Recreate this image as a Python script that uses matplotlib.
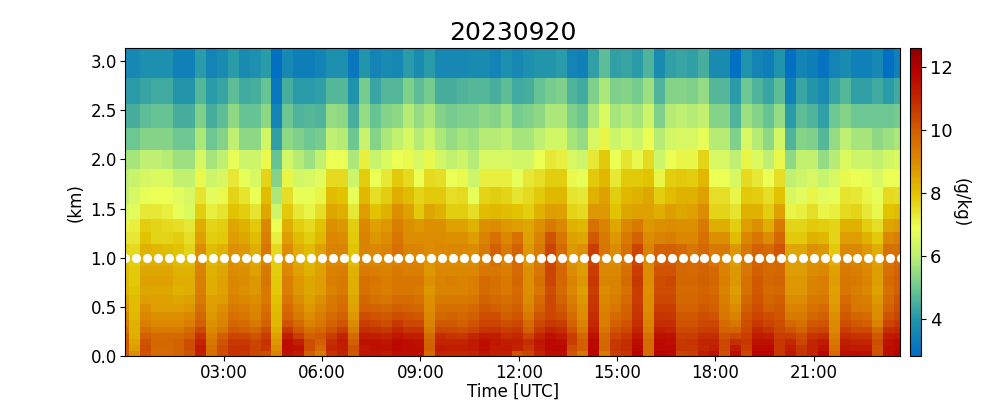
import numpy as np
import matplotlib
matplotlib.use("Agg")
import matplotlib.pyplot as plt
from matplotlib.colors import LinearSegmentedColormap

title = "20230920"
height_edges_km = [3.13, 2.83, 2.565, 2.32, 2.095, 1.90, 1.72, 1.545, 1.395, 1.26, 1.14, 1.017,
                   0.915, 0.815, 0.71, 0.62, 0.53, 0.45, 0.365, 0.295, 0.23, 0.17, 0.11, 0.05, 0.0]
time_edges_h = [0.0] + [0.125 + k / 3 for k in range(71)] + [23.64]
marker_times_h = [k / 3 for k in range(72)]
marker_height_km = 1.0
tick_hours = [3, 6, 9, 12, 15, 18, 21]
tick_labels = ["03:00", "06:00", "09:00", "12:00", "15:00", "18:00", "21:00"]

# Mixing ratio (g/kg): one list per time step, from the top level down to the surface
q_by_time = [
 [3.6,4.1,4.5,5,5.7,6,6.1,6.6,7.1,7.3,7.7, 8,8.1,8.2,8.2,8.5,8.8,9.1,9.3,9.6,10,10.1,10.1,10.1],
 [3.6,4.1,4.5,5,5.7,6.2,6.5,6.7,7.2,7.3,7.6, 7.8,7.9,7.9,8,8.1,8.1,8.2,8.3,8.3,8.4,8.5,8.7,8.9],
 [3.8,4.3,4.8,5.3,6,6.5,6.8,7.3,7.8,8,8.3, 8.3,8.5,8.6,8.5,8.7,8.9,9.1,9.3,9.6,10,10.2,10.3,10.2],
 [3.8,4.4,4.9,5.3,6,6.6,6.9,7.3,7.7,7.7,8.2, 8.4,8.5,8.6,8.5,8.6,8.7,8.9,9.1,9.4,9.7,9.8,9.7,9.7],
 [3.8,4.4,4.9,5.3,5.9,6.6,6.9,7.2,7.6,7.7,8.1, 8.4,8.5,8.6,8.5,8.6,8.7,8.9,9.1,9.4,9.7,9.8,9.7,9.7],
 [3.4,4,4.5,5,5.6,6.1,6.7,6.8,7.5,7.8,8, 8.1,8.3,8.4,8.3,8.5,8.7,8.9,9.1,9.4,9.7,9.9,9.9,9.9],
 [3.4,4,4.5,5,5.6,6.1,6.5,6.6,7.3,7.5,7.7, 8.1,8.3,8.4,8.4,8.6,8.8,9.1,9.3,9.7,10,10.3,10.3,10.2],
 [4.1,4.7,5.2,5.8,6.5,7,7.4,7.8,8.4,8.6,9, 9.1,9.2,9.3,9.3,9.4,9.6,9.8,10,10.4,10.8,11.1,11.3,11.2],
 [3.5,4.1,4.5,5,5.7,6.3,6.7,7.2,7.7,7.8,8.1, 8.2,8.3,8.4,8.4,8.6,8.7,8.8,8.9,9.1,9.3,9.5,9.6,9.6],
 [3.7,4.3,4.8,5.3,6,6.5,7,7.4,7.8,7.9,8.3, 8.4,8.5,8.6,8.6,8.7,8.9,9.1,9.2,9.5,10,10.2,10.3,10.3],
 [4.1,4.8,5.4,6,6.8,7.3,7.7,8,8.5,8.7,8.9, 8.9,9,9.1,9.1,9.2,9.4,9.6,9.8,10.1,10.5,10.7,10.8,10.8],
 [3.7,4.4,4.9,5.4,6.3,6.8,7.4,7.8,8.3,8.5,8.8, 8.8,8.9,9,8.9,9.1,9.3,9.5,9.7,10,10.4,10.7,10.8,10.7],
 [3.8,4.5,4.9,5.4,6.3,6.5,6.9,7.4,7.9,8.1,8.4, 8.5,8.6,8.8,8.8,8.9,9.1,9.2,9.4,9.8,10.2,10.5,10.5,10.4],
 [4.1,4.9,5.4,6.4,7,7.7,8.1,8.5,9.1,9.3,9.5, 9.2,9.4,9.5,9.4,9.4,9.6,9.8,9.9,10.3,10.6,10.8,10.7,10.3],
 [2.9,3.1,3.5,4.2,4.9,5.3,5.8,6.3,6.9,7.2,7.6, 7.8,7.8,7.9,7.9,8,8.1,8.2,8.2,8.4,8.6,8.8,9,9.2],
 [3.6,4.5,5,5.4,6.4,7.1,7.5,7.9,8.4,8.7,9, 9,9.1,9.3,9.3,9.5,9.7,9.9,10.2,10.7,11.2,11.6,11.6,11.5],
 [3.3,4.1,4.6,5.2,5.9,6.4,6.8,7.3,7.8,8.1,8.4, 8.5,8.6,8.8,8.8,9,9.2,9.4,9.7,10.1,10.6,11.2,11.5,11.3],
 [3.3,4.1,4.7,5,5.6,6.5,6.8,7.1,7.6,7.8,8.1, 8.2,8.3,8.5,8.5,8.6,8.8,9,9.2,9.6,10,10.3,10.3,10],
 [3.5,4.2,4.6,5.1,6.1,6.7,7.1,7.5,8,8.2,8.6, 8.5,8.6,8.7,8.7,8.9,9.1,9.3,9.5,9.8,10.1,10,9.7,9.4],
 [3.8,4.7,5.5,6,6.9,7.6,8.1,8.5,8.9,9.1,9.2, 9.1,9.2,9.3,9.2,9.4,9.5,9.7,9.9,10.2,10.6,10.9,11,10.8],
 [3.8,4.7,5.4,5.9,6.9,7.6,8,8.4,8.8,9,9.2, 9.1,9.3,9.4,9.4,9.6,9.7,9.9,10.2,10.6,11.1,11.3,11.2,11.1],
 [3.1,3.9,4.5,5,5.8,6.3,6.8,7.3,7.8,7.9,8, 8.1,8.3,8.4,8.4,8.5,8.6,8.8,9,9.3,9.7,10,10.2,10.1],
 [4,5.1,5.5,6.2,7.2,7.8,8.2,8.7,9.1,9.2,9.2, 9.2,9.4,9.6,9.6,9.8,10,10.3,10.6,10.9,11.3,11.5,11.4,11.4],
 [3.5,4.3,4.9,5.3,6.2,6.9,7.5,8,8.6,8.8,9.1, 9.1,9.3,9.5,9.4,9.6,9.9,10.2,10.5,10.8,11.2,11.5,11.5,11.4],
 [3.7,4.7,5.3,5.8,6.6,7.3,7.8,8.3,8.8,9,9.2, 9.1,9.2,9.3,9.3,9.5,9.8,10.1,10.3,10.7,11.1,11.4,11.5,11.3],
 [3.6,4.7,5.4,6.1,6.9,7.9,8.4,8.9,9.3,9.5,9.6, 9.2,9.4,9.5,9.5,9.7,10,10.3,10.7,11,11.4,11.7,11.7,11.6],
 [4.1,5.2,5.9,6.5,7,7.6,8.1,8.6,8.9,9,9.2, 9.2,9.3,9.5,9.5,9.7,9.9,10.2,10.4,10.8,11.2,11.6,11.6,11.6],
 [3.7,4.8,5.5,5.9,6.5,6.9,7.7,7.9,8.8,9,9.2, 9.2,9.3,9.5,9.4,9.6,9.8,10.1,10.4,10.8,11.2,11.5,11.6,11.6],
 [4.1,5.1,5.8,6.3,7,7.6,7.9,8.5,8.9,9,9, 8.8,8.8,8.9,8.8,8.9,9,9.1,9.2,9.4,9.7,9.9,10,9.7],
 [3.6,4.5,5.3,5.8,6.4,7.5,7.9,8.3,8.9,9,9.1, 9,9.1,9.2,9.2,9.4,9.6,9.8,10.1,10.4,10.9,11.1,11.3,11.1],
 [3.6,4.5,5.1,5.5,6.1,6.9,7.5,7.8,8.6,8.9,9.1, 9,9.1,9.3,9.2,9.4,9.6,9.9,10.1,10.4,10.8,11.1,11.2,11],
 [3.6,4.6,5.2,5.7,6.3,7,7.6,7.8,8.6,8.9,9.1, 9,9.1,9.2,9.2,9.4,9.6,9.8,10,10.3,10.7,11.1,11.2,11],
 [3.7,4.7,5.2,5.6,5.9,6.3,6.8,7.5,8.3,8.7,9, 9,9.1,9.3,9.3,9.5,9.7,10,10.2,10.5,11,11.3,11.3,11.1],
 [3.7,4.7,5.4,5.9,6.5,7.2,7.7,8.1,8.9,9.2,9.4, 9.3,9.5,9.7,9.7,9.9,10.1,10.3,10.5,10.8,11.3,11.6,11.6,11.4],
 [3.5,4.5,5.3,5.9,6.5,7.2,7.8,8.2,9,9.6,10, 9.6,9.5,9.6,9.6,9.7,10,10.3,10.5,10.8,11.2,11.4,11.3,11.2],
 [3.8,4.8,5.6,6,6.5,7.2,7.7,8.1,8.8,9.1,9.4, 9.2,9.3,9.4,9.4,9.6,9.8,10,10.3,10.6,10.9,11.2,11.3,11.2],
 [3.6,4.4,5.1,5.7,6.4,6.8,7.4,8,8.7,9.6,9.9, 9.7,9.7,9.8,9.7,9.8,10,10.2,10.4,10.7,11,11.2,11.1,10.2],
 [3.8,4.5,5.2,5.7,6.4,7.3,7.6,7.8,8.5,8.6,8.8, 8.8,8.9,8.9,8.9,9,9.2,9.4,9.7,10,10.5,10.9,10.7,10.5],
 [4,4.9,5.4,6,6.9,7.5,7.9,8.3,8.9,9.2,9.4, 9.4,9.5,9.6,9.5,9.7,9.9,10.2,10.4,10.7,11.1,11.4,11.3,11.1],
 [4,5.1,5.8,6.4,7.3,7.8,8.2,8.7,9.4,10.2,10.5, 10.4,10.5,10.5,10.3,10.4,10.4,10.5,10.7,11.1,11.5,11.7,11.7,11.6],
 [4.1,5.2,5.8,6.4,7.2,7.8,8.2,8.6,9.1,9.5,9.7, 9.7,9.8,9.8,9.7,9.9,10.1,10.3,10.6,10.9,11.3,11.6,11.7,11.6],
 [3.5,4.6,5.2,5.7,6.5,7,7.4,7.7,8.3,8.6,8.8, 8.9,9,9.2,9.1,9.3,9.5,9.7,9.9,10.2,10.6,10.6,10.3,10.1],
 [3.4,4.4,5,5.5,6.3,6.8,7.3,7.6,8.2,8.5,8.9, 8.7,8.7,8.8,8.7,8.8,8.9,9,9.2,9.4,9.8,10,10,9.5],
 [4.2,5.2,5.8,6.5,7.3,7.9,8.3,8.8,9.6,10.1,10.6, 10.5,10.6,10.7,10.6,10.7,10.8,10.9,11,11.2,11.5,11.7,11.7,11.8],
 [4.8,5.8,6.6,7.1,7.9,8.2,8.6,8.8,9.2,9.4,9.5, 9.1,9.1,9.2,9,9.1,9.2,9.3,9.3,9.5,9.7,9.8,9.8,9.4],
 [4.2,5.2,5.7,6.3,6.9,7.3,7.8,8,8.5,8.8,9, 9,9.1,9.2,9.2,9.3,9.5,9.7,9.9,10.2,10.5,10.7,10.7,10.6],
 [4.3,5.3,5.9,6.6,7.4,7.9,8.2,8.5,9.1,9.4,9.6, 9.5,9.6,9.7,9.6,9.7,9.9,10,10.2,10.4,10.7,10.9,10.9,10.8],
 [4.1,5.1,5.7,6.3,7,7.9,8.3,8.6,9.4,9.9,10.5, 10.5,10.6,10.7,10.6,10.6,10.7,10.8,10.9,11.1,11.4,11.6,11.7,11.8],
 [4.6,5.6,6.3,6.9,7.6,8,8.5,8.6,8.8,9,9.2, 9,9,9,8.9,9,9,9.1,9.2,9.3,9.6,9.7,9.7,9.7],
 [3.7,4.6,5.2,5.9,6.3,7.1,7.8,8.4,8.9,9.2,10, 10,10.2,10.3,10.3,10.4,10.6,10.8,10.9,11.2,11.5,11.7,11.7,11.8],
 [4.2,5.3,5.9,6.4,6.9,7.8,8.1,8.7,9,9.3,10, 10.1,10.2,10.4,10.3,10.4,10.6,10.7,10.9,11.1,11.5,11.6,11.7,11.7],
 [4.3,5.3,6,6.5,7.1,7.9,8.3,8.5,8.9,9.1,9.8, 9.8,9.8,9.8,9.7,9.8,9.9,10.1,10.2,10.4,10.6,10.7,10.7,10.5],
 [4.2,5.2,5.9,6.5,7.1,7.8,8.3,8.6,8.9,9.1,9.5, 9.7,9.7,9.8,9.7,9.8,9.9,10.1,10.2,10.4,10.6,10.8,10.7,10.6],
 [4.5,5.5,6.1,6.8,7.7,8.2,8.6,9,9.4,9.6,9.8, 9.8,9.9,10,9.9,10,10.1,10.3,10.4,10.6,10.9,11.1,11,11.2],
 [3.7,4.7,5.3,5.9,6.5,6.9,7.5,7.7,8.4,8.9,9.4, 9.5,9.7,9.8,9.7,9.9,10,10.2,10.4,10.6,10.9,11.1,11.2,11.5],
 [3.7,4.7,5.3,5.9,6.5,6.9,7.5,7.7,8.4,8.9,9.4, 9.2,9.2,9.3,9.2,9.3,9.4,9.5,9.7,9.9,10.2,10.4,10.4,10.2],
 [2.9,4.1,4.6,5.2,6,6.5,7.1,7.4,7.8,8.1,8.8, 8.7,8.8,8.8,8.7,8.8,9,9.2,9.5,9.9,10.4,10.9,11.3,11.6],
 [3.9,5,5.6,6.5,7.1,7.6,7.9,8.3,8.7,9.1,9.5, 9.5,9.5,9.6,9.6,9.8,10,10.2,10.3,10.4,10.6,10.7,10.6,10.4],
 [3.5,4.6,5.3,5.9,6.6,7.3,7.8,8.3,8.9,9.5,9.9, 9.9,10,10.1,10.1,10.2,10.3,10.5,10.7,11,11.3,11.5,11.7,11.8],
 [3.3,4.3,4.9,5.4,6,6.9,7.5,7.8,8.4,9,9.7, 9.7,9.7,9.8,9.7,9.8,10,10.3,10.5,10.8,11.2,11.5,11.7,11.8],
 [3.9,4.8,5.5,6.4,7,7.5,8,8.6,9.4,9.8,10.2, 9.8,9.8,9.9,9.8,10,10.1,10.2,10.3,10.4,10.6,10.7,10.7,10.7],
 [2.9,3.4,4.1,4.6,5.4,6,6.5,7.1,7.7,7.9,8.5, 8.7,8.7,8.8,8.8,9,9.2,9.4,9.8,10.2,10.6,11,11.2,11.4],
 [3.5,4.3,4.8,5.3,6.1,6.3,6.7,7.2,7.7,7.9,8.5, 8.7,8.7,8.8,8.8,9,9.2,9.4,9.6,9.9,10.3,10.5,10.7,10.8],
 [3.3,4,4.6,5.2,6.1,6.5,7.1,7.5,7.9,8.3,8.9, 8.9,9,9.2,9.2,9.4,9.6,9.8,10.1,10.4,10.8,11.1,11.1,11.1],
 [3,3.7,4.2,4.7,5.5,6.2,6.7,7.1,7.8,8.2,8.8, 8.9,9.1,9.3,9.3,9.5,9.7,10,10.2,10.5,10.9,11.3,11.5,11.7],
 [3.5,4.3,5,5.5,5.9,6.5,6.8,7.2,7.7,7.7,7.9, 8.4,8.6,8.7,8.6,8.7,8.8,8.9,9,9.1,9.3,9.5,9.6,9.7],
 [3.7,4.7,5.3,6,6.6,7,7.4,7.6,8.3,8.7,9.1, 9.3,9.4,9.5,9.5,9.7,9.9,10.1,10.3,10.6,10.9,11.2,11.4,11.6],
 [3.4,4.2,5,5.7,6.3,6.9,7.3,7.7,8.3,8.7,9.1, 9.2,9.3,9.4,9.3,9.4,9.5,9.8,10.1,10.4,10.8,11.1,11.3,11.6],
 [3.4,4.2,5,5.7,6.3,6.8,7.1,7.3,7.8,8.3,8.8, 9,9.1,9.2,9.1,9.3,9.4,9.7,10,10.4,10.8,11.1,11.3,11.5],
 [3.6,4.4,5,5.4,6.1,6.5,6.8,7,7.5,7.9,8.4, 8.6,8.7,8.7,8.6,8.8,8.9,9,9.2,9.7,10.1,10.3,10.2,10.2],
 [2.9,4.1,5,5.6,6.4,6.9,7.6,8,8.5,9.1,9.6, 9.5,9.6,9.7,9.6,9.7,9.9,10.2,10.5,10.9,11.3,11.5,11.6,11.6],
 [3.4,4.4,5.1,5.8,6.6,6.9,7.5,8.1,8.7,9.3,9.6, 9.8,9.9,10,10,10.2,10.3,10.5,10.7,11,11.4,11.7,11.7,11.8],
]

q_min, q_max = 2.83, 12.6
cmap_anchors = [
    (2.83, (0, 110, 195)), (4.0, (35, 150, 170)), (5.0, (110, 200, 145)),
    (6.0, (190, 240, 115)), (6.9, (235, 255, 85)), (8.0, (225, 195, 0)),
    (9.0, (220, 140, 0)), (10.0, (210, 95, 0)), (11.0, (195, 40, 0)),
    (11.9, (185, 0, 0)), (12.6, (140, 0, 0)),
]
cmap = LinearSegmentedColormap.from_list(
    "q", [((v - q_min) / (q_max - q_min), tuple(c / 255 for c in rgb)) for v, rgb in cmap_anchors], N=256)

plt.rcParams["font.family"] = "DejaVu Sans"
fig = plt.figure(figsize=(10, 4), dpi=100)
ax = fig.add_axes([0.1253, 0.11, 0.775, 0.769])
cax = fig.add_axes([0.910, 0.11, 0.0105, 0.769])

q = np.array(q_by_time).T          # rows = heights (top first), columns = times
mesh = ax.pcolormesh(time_edges_h, height_edges_km, q, cmap=cmap, vmin=q_min, vmax=q_max,
                     shading="flat", edgecolors="none", antialiased=False)
ax.plot(marker_times_h, [marker_height_km] * len(marker_times_h), ls="none", marker="o",
        ms=6.6, mfc="white", mec="white", mew=0, antialiased=False)

ax.set_xlim(0, 23.64)
ax.set_ylim(0, 3.13)
ax.set_xticks(tick_hours)
ax.set_xticklabels(tick_labels)
ax.set_yticks([0, 0.5, 1, 1.5, 2, 2.5, 3])
ax.tick_params(labelsize=12, pad=2.5)
ax.set_xlabel("Time [UTC]", fontsize=12, labelpad=0)
ax.set_ylabel("(km)", fontsize=12, labelpad=4)
ax.set_title(title, fontsize=18, pad=6)

cb = fig.colorbar(mesh, cax=cax)
cb.set_ticks([4, 6, 8, 10, 12])
cb.ax.tick_params(labelsize=13, pad=3.5)
cb.set_label("(g/kg)", fontsize=12, rotation=270, labelpad=12)

fig.savefig("out.png", dpi=100)
